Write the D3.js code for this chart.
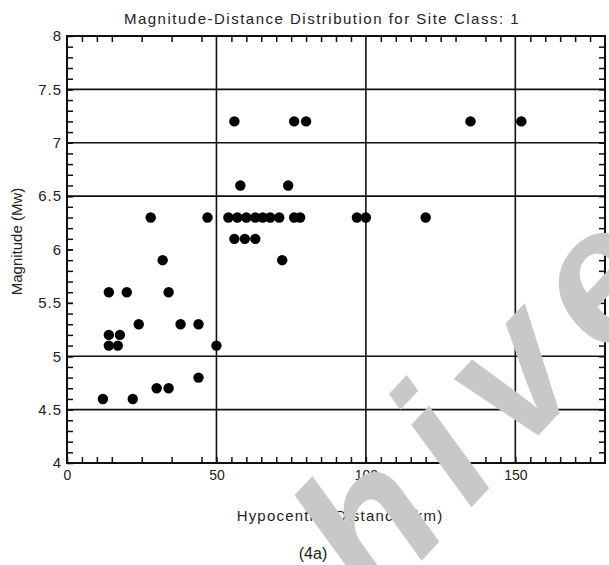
<!DOCTYPE html>
<html>
<head>
<meta charset="utf-8">
<script src="https://cdn.jsdelivr.net/npm/d3@7"></script>
<style>
  body { margin: 0; background: #fff; }
  text { font-family: "Liberation Sans", Arial, sans-serif; fill: #222; }
</style>
</head>
<body>
<div id="root"></div>
<script>
// points: hypocentral distance (km) and magnitude (Mw)
var distance = [56, 76, 80, 135, 152,
  58, 74,
  28, 47, 54, 57, 60, 63, 65.5, 68, 71, 76, 78, 97, 100, 120,
  56, 59.5, 63,
  32, 72,
  14, 20, 34,
  24, 38, 44,
  14, 17.7,
  14, 17, 50,
  44,
  30, 34,
  12, 22];
var magnitude = [7.2, 7.2, 7.2, 7.2, 7.2,
  6.6, 6.6,
  6.3, 6.3, 6.3, 6.3, 6.3, 6.3, 6.3, 6.3, 6.3, 6.3, 6.3, 6.3, 6.3, 6.3,
  6.1, 6.1, 6.1,
  5.9, 5.9,
  5.6, 5.6, 5.6,
  5.3, 5.3, 5.3,
  5.2, 5.2,
  5.1, 5.1, 5.1,
  4.8,
  4.7, 4.7,
  4.6, 4.6];

var xTicks = [0, 50, 100, 150];
var yTicks = [4, 4.5, 5, 5.5, 6, 6.5, 7, 7.5, 8];
var xGrid = [50, 100, 150];
var yGrid = [4.5, 5, 6.5, 7, 7.5];
var xMinor = [5, 10, 15, 25, 35, 45, 55, 60, 65, 70, 75, 80, 85, 90, 95,
  105, 110, 115, 120, 125, 130, 140, 145, 155, 160, 165, 170, 175];
var yMinor = d3.range(41, 80).map(v => v / 10);

var margin = { top: 36, right: 4, bottom: 102, left: 67 },
  width = 609 - margin.left - margin.right,
  height = 565 - margin.top - margin.bottom;

var svg = d3.select('#root')
  .append('svg')
    .attr('width', 609)
    .attr('height', 565);

var g = svg.append('g')
  .attr('transform', 'translate(' + margin.left + ', ' + margin.top + ')');

var xScale = d3.scaleLinear()
  .domain([0, 180])
  .range([0, width]);

var yScale = d3.scaleLinear()
  .domain([4, 8])
  .range([height, 0]);

// grid lines
g.selectAll('.xgrid')
  .data(xGrid)
  .enter()
  .append('line')
    .attr('x1', d => xScale(d))
    .attr('x2', d => xScale(d))
    .attr('y1', 0)
    .attr('y2', height)
    .attr('stroke', '#111')
    .attr('stroke-width', 1.6);

g.selectAll('.ygrid')
  .data(yGrid)
  .enter()
  .append('line')
    .attr('x1', 0)
    .attr('x2', width)
    .attr('y1', d => yScale(d))
    .attr('y2', d => yScale(d))
    .attr('stroke', '#111')
    .attr('stroke-width', 1.6);

// minor ticks on all four sides, pointing inward
var minorAxes = [
  [d3.axisBottom(xScale).tickValues(xMinor), 'translate(0,' + height + ')'],
  [d3.axisTop(xScale).tickValues(xMinor), 'translate(0,0)'],
  [d3.axisLeft(yScale).tickValues(yMinor), 'translate(0,0)'],
  [d3.axisRight(yScale).tickValues(yMinor), 'translate(' + width + ',0)']
];
minorAxes.forEach(a => {
  g.append('g')
    .attr('transform', a[1])
    .call(a[0].tickSize(-6).tickFormat(''))
    .call(s => s.select('.domain').remove())
    .selectAll('line')
      .attr('stroke', '#111')
      .attr('stroke-width', 1.5);
});

var xAxisCall = d3.axisBottom(xScale)
  .tickValues(xTicks)
  .tickSize(-6)
  .tickPadding(7)
  .tickFormat(d3.format('d'));

g.append('g')
  .attr('class', 'x-axis')
  .attr('transform', 'translate(0, ' + height + ')')
  .call(xAxisCall)
  .call(s => s.select('.domain').remove())
  .selectAll('text')
    .attr('font-size', '14px')
    .attr('fill', '#222');

var yAxisCall = d3.axisLeft(yScale)
  .tickValues(yTicks)
  .tickSize(-6)
  .tickPadding(5)
  .tickFormat(d => d);

g.append('g')
  .attr('class', 'y-axis')
  .call(yAxisCall)
  .call(s => s.select('.domain').remove())
  .selectAll('text')
    .attr('font-size', '15px')
    .attr('letter-spacing', '1px')
    .attr('fill', '#222');

g.selectAll('.tick line').attr('stroke', '#111').attr('stroke-width', 1.5);

// frame
g.append('rect')
  .attr('width', width)
  .attr('height', height)
  .attr('fill', 'none')
  .attr('stroke', '#111')
  .attr('stroke-width', 2);

// points
g.selectAll('circle')
  .data(distance)
  .enter()
  .append('circle')
    .attr('cx', (d, i) => xScale(d))
    .attr('cy', (d, i) => yScale(magnitude[i]))
    .attr('r', 5.2)
    .attr('fill', '#000');

// titles
svg.append('text')
  .attr('x', 322)
  .attr('y', 24)
  .attr('font-size', '15px')
  .attr('letter-spacing', '1.5px')
  .attr('text-anchor', 'middle')
  .text('Magnitude-Distance Distribution for Site Class: 1');

svg.append('text')
  .attr('x', 340)
  .attr('y', 521)
  .attr('font-size', '15px')
  .attr('letter-spacing', '1.2px')
  .attr('text-anchor', 'middle')
  .text('Hypocentral Distance (km)');

svg.append('text')
  .attr('transform', 'translate(22,' + (margin.top + height / 2 - 8) + ') rotate(-90)')
  .attr('font-size', '15px')
  .attr('text-anchor', 'middle')
  .text('Magnitude (Mw)');

svg.append('text')
  .attr('x', 313)
  .attr('y', 559)
  .attr('font-size', '16px')
  .attr('text-anchor', 'middle')
  .text('(4a)');

// scan watermark, drawn over the chart
svg.append('text')
  .attr('transform', 'translate(288,704) rotate(-47)')
  .attr('font-size', '190px')
  .attr('font-weight', 'bold')
  .attr('font-style', 'italic')
  .attr('letter-spacing', '22px')
  .style('fill', '#c8c8c8')
  .text('chive');
</script>
</body>
</html>
